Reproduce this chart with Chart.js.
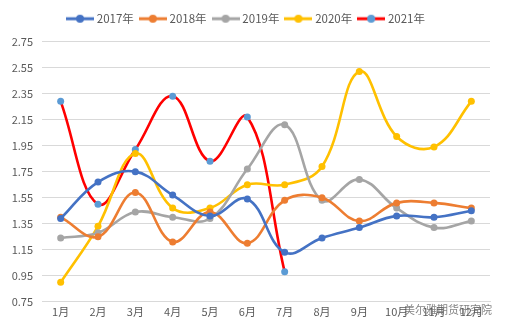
<!DOCTYPE html>
<html>
<head>
<meta charset="utf-8">
<script src="https://cdn.jsdelivr.net/npm/chart.js@4/dist/chart.umd.min.js"></script>
<style>
  html, body { margin: 0; padding: 0; background: #fff; }
  #wrap { width: 505px; height: 333px; position: relative; }
</style>
</head>
<body>
<div id="wrap"><canvas id="chart" width="505" height="333"></canvas></div>
<script>
const months = ['1月', '2月', '3月', '4月', '5月', '6月', '7月', '8月', '9月', '10月', '11月', '12月']
const yearNames = ['2017年', '2018年', '2019年', '2020年', '2021年']

const v2017 = [1.39, 1.67, 1.75, 1.57, 1.41, 1.54, 1.13, 1.24, 1.32, 1.41, 1.40, 1.45]
const v2018 = [1.40, 1.25, 1.59, 1.21, 1.44, 1.20, 1.53, 1.55, 1.37, 1.51, 1.51, 1.47]
const v2019 = [1.24, 1.28, 1.44, 1.40, 1.39, 1.77, 2.11, 1.53, 1.69, 1.47, 1.32, 1.37]
const v2020 = [0.90, 1.33, 1.89, 1.47, 1.47, 1.65, 1.65, 1.79, 2.52, 2.02, 1.94, 2.29]
const v2021 = [2.29, 1.50, 1.92, 2.33, 1.83, 2.17, 0.98]

const yTicks = [0.75, 0.95, 1.15, 1.35, 1.55, 1.75, 1.95, 2.15, 2.35, 2.55, 2.75]

const lineColors = ['#4472C4', '#ED7D31', '#A5A5A5', '#FFC000', '#FF0000']
const dotColors = ['#4472C4', '#ED7D31', '#A5A5A5', '#FFC000', '#5B9BD5']
const allValues = [v2017, v2018, v2019, v2020, v2021]

const fontFam = '"Noto Sans CJK SC", "DejaVu Sans", sans-serif'

// little line-with-dot picture for the legend
const legendIcon = (line, dot) => {
    const c = document.createElement('canvas')
    c.width = 28
    c.height = 10
    const g = c.getContext('2d')
    g.strokeStyle = line
    g.lineWidth = 3
    g.beginPath()
    g.moveTo(0, 5)
    g.lineTo(28, 5)
    g.stroke()
    g.fillStyle = dot
    g.beginPath()
    g.arc(14, 5, 4, 0, Math.PI * 2)
    g.fill()
    return c
}

const datasets = allValues.map((vals, i) => ({
    label: yearNames[i],
    data: vals,
    borderColor: lineColors[i],
    backgroundColor: dotColors[i],
    pointBackgroundColor: dotColors[i],
    pointBorderColor: dotColors[i],
    pointRadius: 3.5,
    pointBorderWidth: 0,
    borderWidth: 2.6,
    tension: 0.4,
    fill: false,
    pointStyle: 'circle',
    legendIcon: legendIcon(lineColors[i], dotColors[i]),
}))

// a bit more room between legend and plot
const legendGap = {
    id: 'legendGap',
    beforeInit(chart) {
        const fit = chart.legend.fit
        chart.legend.fit = function () {
            fit.call(this)
            this.height += 7
        }
    }
}

const watermark = {
    id: 'watermark',
    afterDraw(chart) {
        const g = chart.ctx
        g.save()
        g.font = '11px ' + fontFam
        g.fillStyle = 'rgba(90,90,90,0.75)'
        g.textAlign = 'right'
        g.textBaseline = 'middle'
        g.fillText('美尔雅期货研究院', 492, 310)
        g.restore()
    }
}

new Chart(document.getElementById('chart'), {
    type: 'line',
    data: { labels: months, datasets: datasets },
    plugins: [legendGap, watermark],
    options: {
        responsive: false,
        animation: false,
        layout: { padding: { left: 4, right: 15, top: 5, bottom: 12 } },
        plugins: {
            legend: {
                position: 'top',
                labels: {
                    usePointStyle: true,
                    pointStyleWidth: 22,
                    boxHeight: 10,
                    padding: 8,
                    color: '#595959',
                    font: { family: fontFam, size: 11.5 },
                    generateLabels: (chart) => chart.data.datasets.map((ds, i) => ({
                        text: ds.label,
                        pointStyle: ds.legendIcon,
                        fontColor: '#595959',
                        lineWidth: 0,
                        datasetIndex: i,
                    })),
                },
            },
            tooltip: { enabled: false },
        },
        scales: {
            x: {
                offset: true,
                grid: { display: false, drawTicks: false, offset: true },
                border: { color: '#D9D9D9' },
                ticks: { color: '#595959', font: { family: fontFam, size: 11 }, padding: 3, maxRotation: 0, autoSkip: false },
            },
            y: {
                min: 0.75,
                max: 2.75,
                afterBuildTicks: (axis) => { axis.ticks = yTicks.map(v => ({ value: v })) },
                grid: { color: '#D9D9D9', drawTicks: false },
                border: { display: false },
                ticks: {
                    color: '#595959',
                    font: { family: fontFam, size: 11 },
                    padding: 9,
                    callback: (v) => Number(v).toFixed(2),
                },
                afterFit: (axis) => { axis.width = 38 },
            },
        },
    },
})
</script>
</body>
</html>
